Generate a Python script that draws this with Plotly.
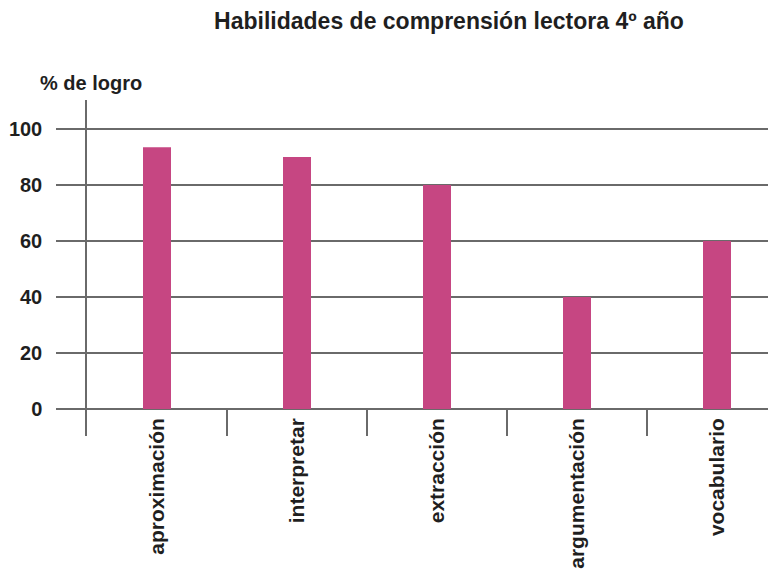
import plotly.graph_objects as go

categories = ["aproximación", "interpretar", "extracción", "argumentación", "vocabulario"]
values = [93.5, 90, 80, 40, 60]
y_ticks = [0, 20, 40, 60, 80, 100]

title_text = "Habilidades de comprensión lectora 4º año"
y_label = "% de logro"

FONT = "Liberation Sans, Arial, sans-serif"
TXT = "#1f1f1f"
GRID = "#6a6a6a"

# page body has an 8px margin; figure coordinates are offset accordingly
FIG_W = 790
PLOT_W = FIG_W - 79
fig = go.Figure()
fig.add_trace(go.Bar(
    x=categories, y=values,
    marker=dict(color="#C64682", line=dict(width=0)),
    width=0.2,
))

fig.update_layout(
    width=FIG_W, height=571,
    margin=dict(l=79, r=0, t=92, b=143, pad=0),
    plot_bgcolor="white", paper_bgcolor="white",
    showlegend=False,
    title=dict(
        text=title_text, xref="container", yref="container",
        x=441 / FIG_W, y=1 - 13 / 571, xanchor="center", yanchor="middle",
        font=dict(family=FONT, size=23, color=TXT, weight="bold"),
    ),
    annotations=[dict(
        text=y_label, xref="paper", yref="paper",
        x=-49 / PLOT_W, y=1 + 17 / 336, xanchor="left", yanchor="middle",
        showarrow=False,
        font=dict(family=FONT, size=20, color=TXT, weight="bold"),
    )],
)

fig.update_xaxes(
    type="category", range=[-0.5, -0.5 + PLOT_W / 140], automargin=False,
    showgrid=False, showline=False, zeroline=False,
    ticks="inside", ticklen=27, tickwidth=1.5, tickcolor=GRID,
    tickson="boundaries",
    tickangle=-90, ticklabelstandoff=-23,
    tickfont=dict(family=FONT, size=21, color=TXT, weight="bold"),
)
fig.update_yaxes(
    range=[-9.6, 110.4], automargin=False,
    tickvals=y_ticks,
    showgrid=True, gridcolor=GRID, gridwidth=1.5,
    zeroline=False,
    showline=True, linecolor=GRID, linewidth=1.5,
    ticks="outside", ticklen=29, tickwidth=1.5, tickcolor=GRID,
    ticklabelstandoff=10,
    tickfont=dict(family=FONT, size=20, color=TXT, weight="bold"),
)

fig.write_html("out.html")
